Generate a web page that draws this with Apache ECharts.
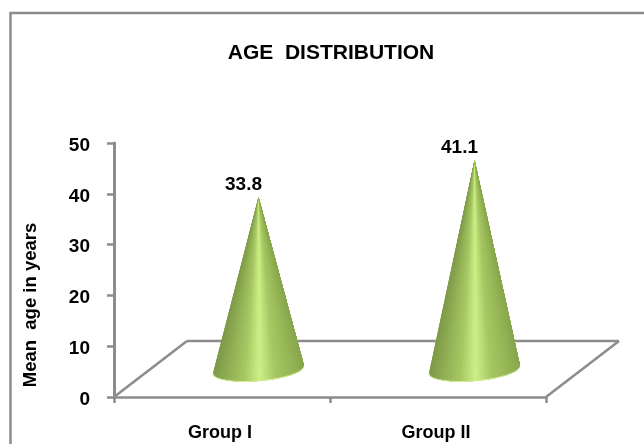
<!DOCTYPE html>
<html><head><meta charset="utf-8">
<style>html,body{margin:0;padding:0;background:#fff;overflow:hidden}#c{width:644px;height:444px}</style>
<script src="https://cdn.jsdelivr.net/npm/echarts@6/dist/echarts.min.js"></script>
</head><body><div id="c"></div>
<script>
const categories = ['Group I', 'Group II'];
const meanAge = [33.8, 41.1];
const chartTitle = 'AGE  DISTRIBUTION';
const yAxisName = 'Mean  age in years';
const AXIS = '#8c8c8c';
const FONT = '"Liberation Sans", Arial, sans-serif';
const DEPTH = [36.5, -28];
const chart = echarts.init(document.getElementById('c'), null, {renderer: 'canvas'});
const SHADE = ['#7f9a48', '#93b256', '#a8c864', '#cdf086', '#a8c864', '#98b858', '#88a64c'];
function shade(s) { return echarts.color.lerp(Math.min(1, Math.max(0, s)), SHADE); }
function renderCone(params, api) {
  const p = api.coord([api.value(0), api.value(1)]);
  const b = api.coord([api.value(0), 0]);
  const ax = p[0] + DEPTH[0], ay = p[1] + DEPTH[1];
  const cx = b[0] + DEPTH[0], cy = b[1] + DEPTH[1] + 0.5;
  const ux = 45.5, uy = -3.5, vx = -1, vy = 11.5, N = 60;
  const pts = [];
  for (let i = 0; i <= N; i++) {
    const t = Math.PI * i / N;
    pts.push([cx + ux * Math.cos(t) + vx * Math.sin(t), cy + uy * Math.cos(t) + vy * Math.sin(t)]);
  }
  const children = [];
  // painted from the left edge rightwards; each layer covers everything to its right, so no seams
  for (let i = N; i > 0; i--) {
    const c = shade((pts[i][0] - (cx - ux)) / (2 * ux));
    children.push({type: 'polygon', shape: {points: [[ax, ay]].concat(pts.slice(0, i + 1))},
      style: {fill: c, stroke: null}});
  }
  children.push({type: 'polyline', shape: {points: pts},
    style: {fill: null, stroke: '#d6f09a', lineWidth: 1}});
  children.push({type: 'text', style: {x: ax - 15, y: ay - 3, text: String(api.value(1)),
    align: 'center', verticalAlign: 'bottom', fill: '#000', font: 'bold 19px ' + FONT}});
  return {type: 'group', children};
}
function renderFloor(params, api) {
  const a = api.coord([0, 0]);
  const size = api.size([1, 0]);
  const x0 = a[0] - size[0] / 2, x1 = x0 + size[0] * categories.length, y = a[1];
  const line = (x1_, y1_, x2_, y2_) => ({type: 'line', shape: {x1: x1_, y1: y1_, x2: x2_, y2: y2_},
    style: {stroke: AXIS, lineWidth: 2.5}});
  return {type: 'group', children: [
    line(x0, y, x0 + 2 * DEPTH[0], y + 2 * DEPTH[1]),
    line(x0 + 2 * DEPTH[0], y + 2 * DEPTH[1], x1 + 2 * DEPTH[0], y + 2 * DEPTH[1]),
    line(x1 + 2 * DEPTH[0], y + 2 * DEPTH[1], x1, y)
  ]};
}
chart.setOption({
  animation: false,
  backgroundColor: '#fff',
  graphic: [
    {type: 'rect', shape: {x: 10.5, y: 13, width: 700, height: 500},
     style: {fill: 'none', stroke: AXIS, lineWidth: 2.5}, silent: true, z: 0},
    {type: 'text', x: 31, y: 305, rotation: Math.PI / 2, silent: true,
     style: {text: yAxisName, align: 'center', verticalAlign: 'middle', fill: '#000',
       font: 'bold 18.5px ' + FONT}}
  ],
  title: {text: chartTitle, left: 326, top: 38, textAlign: 'center',
    textStyle: {fontFamily: FONT, fontWeight: 'bold', fontSize: 21, color: '#000'}},
  grid: {left: 114, right: 98, top: 143, bottom: 47},
  xAxis: {type: 'category', data: categories,
    axisLine: {lineStyle: {color: AXIS, width: 2.5}},
    axisTick: {show: true, alignWithLabel: false, length: 6, lineStyle: {color: AXIS, width: 2.5}},
    axisLabel: {margin: 27, padding: [0, 4, 0, 0], fontFamily: FONT, fontWeight: 'bold', fontSize: 18, color: '#000'}},
  yAxis: {type: 'value', min: 0, max: 50, interval: 10,
    axisLine: {show: true, lineStyle: {color: AXIS, width: 3}},
    axisTick: {show: true, length: 7, lineStyle: {color: AXIS, width: 2.5}},
    splitLine: {show: false},
    axisLabel: {margin: 24, formatter: '{t|{value}}',
      rich: {t: {padding: [5, 0, 0, 0], fontFamily: FONT, fontWeight: 'bold', fontSize: 19, color: '#000'}},
      fontFamily: FONT, fontWeight: 'bold', fontSize: 19, color: '#000'}},
  series: [
    {type: 'custom', renderItem: renderFloor, data: [[0, 0]], z: 1, silent: true, clip: false},
    {type: 'custom', renderItem: renderCone, encode: {x: 0, y: 1},
     data: categories.map((c, i) => [i, meanAge[i]]), z: 2, clip: false}
  ]
});
</script></body></html>
